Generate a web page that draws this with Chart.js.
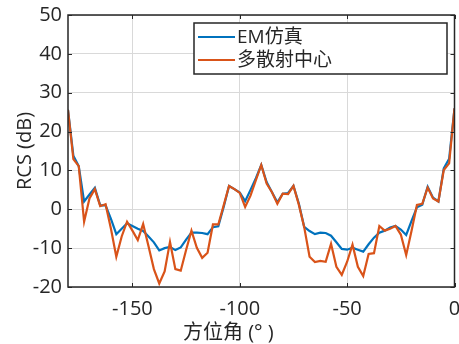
<!DOCTYPE html>
<html>
<head>
<meta charset="utf-8">
<script src="https://cdn.jsdelivr.net/npm/chart.js@4/dist/chart.umd.min.js"></script>
<style>
  html, body { margin: 0; padding: 0; background: #ffffff; }
  #wrap { width: 459px; height: 344px; position: relative; }
</style>
</head>
<body>
<div id="wrap"><canvas id="c" width="459" height="344"></canvas></div>
<script>
// Azimuth angles (degrees)
const angles = [
  -180, -177.5, -175, -172.5, -170, -167.5, -165, -162.5, -160, -157.5,
  -155, -152.5, -150, -147.5, -145, -142.5, -140, -137.5, -135, -132.5,
  -130, -127.5, -125, -122.5, -120, -117.5, -115, -112.5, -110, -107.5,
  -105, -102.5, -100, -97.5, -95, -92.5, -90, -87.5, -85, -82.5,
  -80, -77.5, -75, -72.5, -70, -67.5, -65, -62.5, -60, -57.5,
  -55, -52.5, -50, -47.5, -45, -42.5, -40, -37.5, -35, -32.5,
  -30, -27.5, -25, -22.5, -20, -17.5, -15, -12.5, -10, -7.5,
  -5, -2.5, 0
];

// RCS from full-wave EM simulation (dB)
const emSim = [
  25.6, 13.8, 11.1, 2.0, 3.8, 5.5, 1.0, 1.0, -2.5, -6.4,
  -5.0, -3.6, -4.3, -5.0, -5.6, -7.0, -8.5, -10.6, -10.0, -9.7,
  -10.5, -9.8, -7.8, -6.0, -6.0, -6.1, -6.4, -4.6, -4.4, 0.6,
  6.0, 5.2, 4.3, 2.1, 5.0, 8.0, 11.4, 7.0, 4.4, 1.8,
  4.0, 4.2, 6.0, 1.5, -4.5, -5.6, -6.4, -6.0, -6.1, -6.8,
  -8.5, -10.2, -10.4, -9.9, -10.4, -10.9, -9.0, -7.3, -6.0, -5.5,
  -4.7, -4.3, -5.2, -6.6, -3.0, 0.5, 1.2, 5.8, 3.0, 2.0,
  10.5, 13.0, 26.0
];

// RCS from the multiple scattering-center model (dB)
const multiCenter = [
  25.6, 12.9, 11.1, -3.2, 2.8, 5.2, 0.8, 1.3, -5.0, -12.2,
  -7.0, -3.2, -5.5, -7.9, -3.8, -9.5, -15.4, -19.1, -16.0, -8.4,
  -15.4, -15.8, -10.5, -5.5, -9.9, -12.5, -11.2, -3.9, -3.9, 1.0,
  6.0, 5.2, 4.2, 0.6, 3.5, 7.5, 11.4, 6.6, 4.4, 1.4,
  4.0, 3.9, 6.0, 1.2, -4.6, -12.2, -13.6, -13.3, -13.5, -8.9,
  -14.8, -16.9, -13.5, -9.1, -14.8, -17.2, -11.5, -11.3, -4.3, -5.5,
  -5.0, -4.3, -6.5, -11.8, -5.5, 1.1, 1.4, 5.6, 2.8, 2.0,
  10.1, 11.8, 26.0
];

const xTicks = [-150, -100, -50, 0];
const yTicks = [-20, -10, 0, 10, 20, 30, 40, 50];
const seriesNames = ['EM仿真', '多散射中心'];
const xTitle = '方位角 (° )';
const yTitle = 'RCS (dB)';

const FONT = "'Open Sans', 'Noto Sans CJK SC', sans-serif";
const INK = '#262626';

function toPoints(xs, ys) {
  return xs.map((x, i) => ({ x: x, y: ys[i] }));
}

// Axes box, inward ticks, axis titles and the boxed legend
const decorations = {
  id: 'decorations',
  afterDraw(chart) {
    const ctx = chart.ctx;
    const ca = chart.chartArea;
    const xs = chart.scales.x;
    const ys = chart.scales.y;
    ctx.save();

    // box
    ctx.strokeStyle = INK;
    ctx.lineWidth = 1.5;
    ctx.strokeRect(ca.left, ca.top, ca.right - ca.left, ca.bottom - ca.top);

    // inward tick marks on all four sides
    ctx.lineWidth = 1;
    const tl = 4;
    ctx.beginPath();
    xTicks.forEach(v => {
      const px = Math.round(xs.getPixelForValue(v)) + 0.5;
      ctx.moveTo(px, ca.bottom); ctx.lineTo(px, ca.bottom - tl);
      ctx.moveTo(px, ca.top); ctx.lineTo(px, ca.top + tl);
    });
    yTicks.forEach(v => {
      const py = Math.round(ys.getPixelForValue(v)) + 0.5;
      ctx.moveTo(ca.left, py); ctx.lineTo(ca.left + tl, py);
      ctx.moveTo(ca.right, py); ctx.lineTo(ca.right - tl, py);
    });
    ctx.stroke();

    // axis titles
    ctx.fillStyle = INK;
    ctx.font = '20px ' + FONT;
    ctx.textBaseline = 'middle';
    ctx.textAlign = 'left';
    ctx.fillText(xTitle, 183, 333);

    ctx.save();
    ctx.translate(25, (ca.top + ca.bottom) / 2);
    ctx.rotate(-Math.PI / 2);
    ctx.textAlign = 'center';
    ctx.fillText(yTitle, 0, 0);
    ctx.restore();

    // legend
    const lx = ca.left + 126, ly = ca.top + 8, lw = 253, lh = 51;
    ctx.fillStyle = '#ffffff';
    ctx.fillRect(lx, ly, lw, lh);
    ctx.strokeStyle = INK;
    ctx.lineWidth = 1.5;
    ctx.strokeRect(lx, ly, lw, lh);
    ctx.font = '19px ' + FONT;
    ctx.textAlign = 'left';
    ctx.textBaseline = 'middle';
    chart.data.datasets.forEach((ds, i) => {
      const cy = ly + 14 + i * 23;
      ctx.strokeStyle = ds.borderColor;
      ctx.lineWidth = 2;
      ctx.beginPath();
      ctx.moveTo(lx + 4, cy);
      ctx.lineTo(lx + 41, cy);
      ctx.stroke();
      ctx.fillStyle = INK;
      ctx.fillText(ds.label, lx + 43, cy + 1);
    });

    ctx.restore();
  }
};

new Chart(document.getElementById('c'), {
  type: 'line',
  data: {
    datasets: [
      {
        label: seriesNames[0],
        data: toPoints(angles, emSim),
        borderColor: '#0072BD',
        borderWidth: 2.2,
        pointRadius: 0,
        tension: 0,
        order: 1
      },
      {
        label: seriesNames[1],
        data: toPoints(angles, multiCenter),
        borderColor: '#D95319',
        borderWidth: 2.2,
        pointRadius: 0,
        tension: 0,
        order: 0
      }
    ]
  },
  options: {
    responsive: false,
    devicePixelRatio: 1,
    animation: false,
    layout: { padding: { top: 15, right: 4.5, left: 0, bottom: 0 } },
    plugins: {
      legend: { display: false },
      tooltip: { enabled: false }
    },
    scales: {
      x: {
        type: 'linear',
        min: -180,
        max: 0,
        afterBuildTicks: s => { s.ticks = xTicks.map(v => ({ value: v })); },
        afterFit: s => { s.height = 57; s.paddingLeft = 0; s.paddingRight = 0; },
        grid: { color: '#d9d9d9', lineWidth: 1, drawTicks: false },
        border: { display: false },
        ticks: {
          padding: 10,
          color: INK,
          font: { family: FONT, size: 20 },
          maxRotation: 0,
          callback: v => String(v)
        }
      },
      y: {
        type: 'linear',
        min: -20,
        max: 50,
        afterBuildTicks: s => { s.ticks = yTicks.map(v => ({ value: v })); },
        afterFit: s => { s.width = 68; s.paddingTop = 0; s.paddingBottom = 0; },
        grid: { color: '#d9d9d9', lineWidth: 1, drawTicks: false },
        border: { display: false },
        ticks: {
          padding: 6,
          color: INK,
          font: { family: FONT, size: 20 },
          callback: v => String(v)
        }
      }
    }
  },
  plugins: [decorations]
});
</script>
</body>
</html>
